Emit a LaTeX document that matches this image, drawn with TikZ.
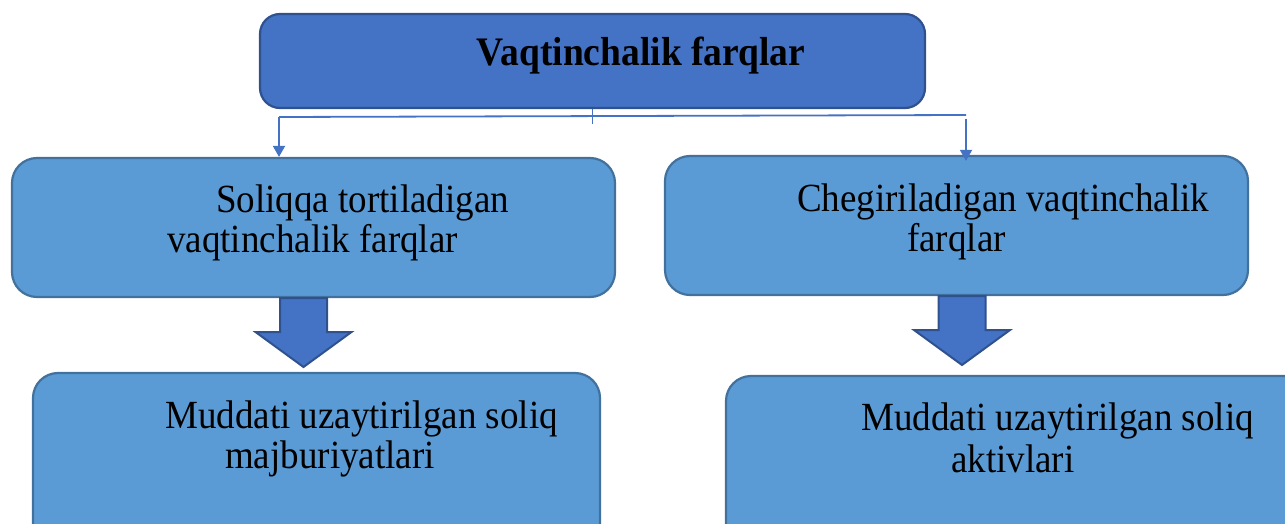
\documentclass[tikz,border=0pt]{standalone}
\usepackage{fontspec}
\setmainfont{Liberation Serif}
\usepackage{tikz}
\usetikzlibrary{calc,arrows.meta,positioning}
\definecolor{topfill}{HTML}{4472C4}
\definecolor{toprim}{HTML}{2F528F}
\definecolor{boxfill}{HTML}{5B9BD5}
\definecolor{boxrim}{HTML}{41719C}
\tikzset{
    every node/.append style={font=\fontsize{37}{40}\selectfont}}
\newcommand{\tall}[1]{\scalebox{1}[1.08]{#1}}
\newcommand{\bigdown}[1]{\draw[bigarrow] (#1) ++(-23.5,0) -- ++(0,34) -- ++(-24.5,0) -- ++(48,35) -- ++(48,-35) -- ++(-24.5,0) -- ++(0,-34) -- cycle;}

\begin{document}
\begin{tikzpicture}[x=1pt,y=-1pt,
    topbox/.style={draw=toprim, fill=topfill, line width=2.2pt, rounded corners=20pt},
    box/.style={draw=boxrim, fill=boxfill, line width=2.2pt, rounded corners=25pt},
    link/.style={draw=topfill, line width=1.8pt},
    bigarrow/.style={draw=toprim, fill=topfill, line width=2pt, line join=miter},
    txt/.style={anchor=base west, inner sep=0pt, text=black}]
    \useasboundingbox (0,0) rectangle (1285,524);
    \clip (0,0) rectangle (1285,524);

    % boxes
    \node[topbox, minimum width=665pt, minimum height=94pt] (vaqt) at (592.5,61) {};
    \node[box, minimum width=603pt, minimum height=139pt] (soliq) at (313.5,227.5) {};
    \node[box, minimum width=583pt, minimum height=139pt] (chegir) at (956.5,225.5) {};
    \node[box, minimum width=567pt, minimum height=227pt] (majb) at (316.5,486.5) {};
    \node[box, minimum width=604pt, minimum height=224pt] (aktiv) at (1028,488) {};

    % texts
    \node[txt, anchor=base, font=\fontsize{37.5}{40}\selectfont\bfseries] (vaqtT) at (641,66) {\tall{Vaqtinchalik farqlar}};
    \node[txt] (soliqA) at (216,212) {\tall{Soliqqa tortiladigan}};
    \node[txt] (soliqB) at (167,252) {\tall{vaqtinchalik farqlar}};
    \node[txt] (chegirA) at (797,211) {\tall{Chegiriladigan vaqtinchalik}};
    \node[txt] (chegirB) at (907,251) {\tall{farqlar}};
    \node[txt] (majbA) at (165,428) {\tall{Muddati uzaytirilgan soliq}};
    \node[txt] (majbB) at (225,468) {\tall{majburiyatlari}};
    \node[txt] (aktivA) at (861,430) {\tall{Muddati uzaytirilgan soliq}};
    \node[txt] (aktivB) at (951,472) {\tall{aktivlari}};

    % connectors
    \coordinate (jL) at (279,117);
    \coordinate (jR) at (966,115);
    \coordinate (jR2) at (966,119);
    \draw[link, line width=1.3pt] (vaqt.south) -- ++(0,15);
    \draw[link] (jL) -- (jR);
    \draw[link, -{Triangle[width=12pt,length=11pt]}] (jL) -- (jL |- soliq.north);
    \draw[link, -{Triangle[width=12pt,length=11pt]}] (jR2) -- ($(jR2 |- chegir.north)+(0,6)$);

    % block arrows
    \coordinate (aL) at (303.5,298);
    \coordinate (aR) at (962,296);
    \bigdown{aL}
    \bigdown{aR}
\end{tikzpicture}
\end{document}
